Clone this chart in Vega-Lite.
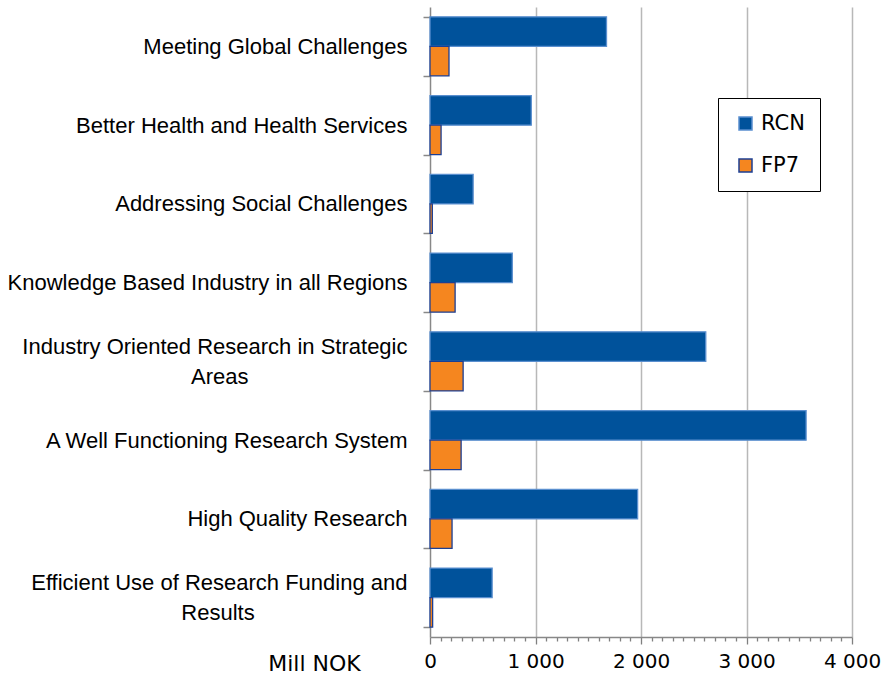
{
  "$schema": "https://vega.github.io/schema/vega-lite/v6.json",
  "width": 422,
  "height": 630,
  "autosize": "none",
  "padding": {"left": 430, "top": 7, "right": 33, "bottom": 37},
  "background": "white",
  "config": {"view": {"stroke": null}},
  "data": {
    "values": [
      {"category": "Meeting Global Challenges", "series": "RCN", "value": 1673},
      {"category": "Meeting Global Challenges", "series": "FP7", "value": 180},
      {"category": "Better Health and Health Services", "series": "RCN", "value": 960},
      {"category": "Better Health and Health Services", "series": "FP7", "value": 105},
      {"category": "Addressing Social Challenges", "series": "RCN", "value": 409},
      {"category": "Addressing Social Challenges", "series": "FP7", "value": 22},
      {"category": "Knowledge Based Industry in all Regions", "series": "RCN", "value": 780},
      {"category": "Knowledge Based Industry in all Regions", "series": "FP7", "value": 238},
      {"category": "Industry Oriented Research in Strategic Areas", "series": "RCN", "value": 2614},
      {"category": "Industry Oriented Research in Strategic Areas", "series": "FP7", "value": 314},
      {"category": "A Well Functioning Research System", "series": "RCN", "value": 3565},
      {"category": "A Well Functioning Research System", "series": "FP7", "value": 295},
      {"category": "High Quality Research", "series": "RCN", "value": 1968},
      {"category": "High Quality Research", "series": "FP7", "value": 209},
      {"category": "Efficient Use of Research Funding and Results", "series": "RCN", "value": 589},
      {"category": "Efficient Use of Research Funding and Results", "series": "FP7", "value": 25}
    ]
  },
  "mark": {"type": "bar", "strokeWidth": 1.3},
  "encoding": {
    "y": {
      "field": "category",
      "type": "nominal",
      "sort": null,
      "scale": {"paddingInner": 0.25, "paddingOuter": 0.125},
      "axis": {
        "title": null,
        "tickBand": "extent",
        "tickSize": 7,
        "tickColor": "#888888",
        "tickWidth": 1.5,
        "domainColor": "#888888",
        "domainWidth": 1.5,
        "labelFont": "Liberation Sans",
        "labelFontSize": 22,
        "labelColor": "#000000",
        "labelPadding": 16,
        "labelLimit": 500,
        "labelLineHeight": 30,
        "labelOffset": {"condition": {"test": "datum.value == 'Industry Oriented Research in Strategic Areas' || datum.value == 'Efficient Use of Research Funding and Results'", "value": -15}, "value": 0},
        "labelExpr": "datum.label == 'Industry Oriented Research in Strategic Areas' ? ['Industry Oriented Research in Strategic', 'Areas\u00a0\u00a0\u00a0\u00a0\u00a0\u00a0\u00a0\u00a0\u00a0\u00a0\u00a0\u00a0\u00a0\u00a0\u00a0\u00a0\u00a0\u00a0\u00a0\u00a0\u00a0\u00a0\u00a0\u00a0\u00a0\u00a0\u200b'] : datum.label == 'Efficient Use of Research Funding and Results' ? ['Efficient Use of Research Funding and', 'Results\u00a0\u00a0\u00a0\u00a0\u00a0\u00a0\u00a0\u00a0\u00a0\u00a0\u00a0\u00a0\u00a0\u00a0\u00a0\u00a0\u00a0\u00a0\u00a0\u00a0\u00a0\u00a0\u00a0\u00a0\u00a0\u200b'] : datum.label"
      }
    },
    "yOffset": {"field": "series", "type": "nominal", "sort": ["RCN", "FP7"], "scale": {"domain": ["RCN", "FP7"]}},
    "x": {
      "field": "value",
      "type": "quantitative",
      "scale": {"domain": [0, 4000], "nice": false},
      "axis": {
        "title": "Mill NOK",
        "titleFont": "DejaVu Sans",
        "titleFontSize": 22,
        "titleFontWeight": "normal",
        "titleColor": "#000000",
        "titleAnchor": "start",
        "titleAlign": "center",
        "titleX": -116,
        "titleY": 33,
        "titleBaseline": "alphabetic",
        "values": [0,100,200,300,400,500,600,700,800,900,1000,1100,1200,1300,1400,1500,1600,1700,1800,1900,2000,2100,2200,2300,2400,2500,2600,2700,2800,2900,3000,3100,3200,3300,3400,3500,3600,3700,3800,3900,4000],
        "labelExpr": "datum.value % 1000 === 0 ? replace(format(datum.value, ','), ',', ' ') : ''",
        "labelFont": "DejaVu Sans",
        "labelFontSize": 20,
        "labelColor": "#000000",
        "labelPadding": 7,
        "labelFlush": false,
        "labelOverlap": false,
        "domainColor": "#888888",
        "domainWidth": 1.5,
        "ticks": true,
        "tickColor": "#808080",
        "tickWidth": 1.3,
        "tickOpacity": 1,
        "tickSize": {"condition": {"test": "datum.value % 1000 === 0", "value": 7}, "value": 4},
        "grid": true,
        "gridColor": "#b8b8b8",
        "gridWidth": 1.5,
        "gridOpacity": {"condition": {"test": "datum.value % 1000 === 0 && datum.value > 0", "value": 1}, "value": 0}
      }
    },
    "fill": {
      "field": "series",
      "type": "nominal",
      "scale": {"domain": ["RCN", "FP7"], "range": ["#00529b", "#f5861f"]},
      "legend": {
        "title": null,
        "orient": "none",
        "legendX": 288,
        "legendY": 91,
        "symbolType": "square",
        "symbolSize": 169,
        "symbolStrokeWidth": 1.5,
        "symbolOffset": 2,
        "labelFont": "DejaVu Sans",
        "labelFontSize": 21,
        "labelColor": "#000000",
        "labelOffset": 5,
        "rowPadding": 20,
        "padding": 15,
        "strokeColor": "#000000",
        "fillColor": "#ffffff",
        "cornerRadius": 0
      }
    },
    "stroke": {
      "field": "series",
      "type": "nominal",
      "scale": {"domain": ["RCN", "FP7"], "range": ["#5a8fcf", "#1c3f94"]}
    }
  }
}
